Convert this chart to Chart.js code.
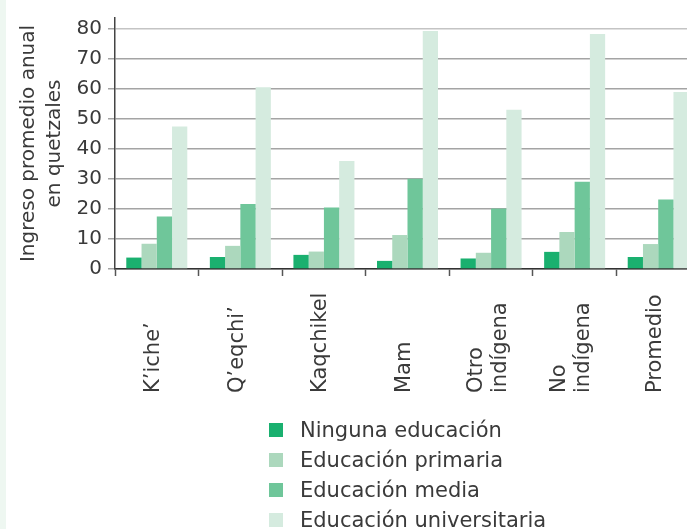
<!DOCTYPE html>
<html lang="es">
<head>
<meta charset="utf-8">
<title>Ingreso promedio anual</title>
<script src="https://cdn.jsdelivr.net/npm/chart.js@4.4.1/dist/chart.umd.min.js"></script>
<style>
    html, body { margin: 0; padding: 0; background: #fff; overflow: hidden; }
    body { width: 687px; height: 529px; position: relative; font-family: 'DejaVu Sans', sans-serif; }
    .stripe { position: absolute; left: 0; top: 0; width: 6px; height: 529px; background: #eef7f1; }
    #wrap { position: absolute; left: 0; top: 0; width: 700px; height: 529px; }
    #legend { position: absolute; left: 0; top: 0; }
    .item { position: absolute; left: 269px; height: 24px; line-height: 24px; white-space: nowrap; color: #3a3a3a; font-size: 21px; }
    .item span.box { position: absolute; left: 0; top: 5px; width: 14px; height: 14px; }
    .item span.txt { position: absolute; left: 31px; top: 0; }
</style>
</head>
<body>
<div class="stripe"></div>
<div id="wrap"><canvas id="incomeChart" width="700" height="529"></canvas></div>
<div id="legend"></div>
<script>
// Categories (ethnic group) and series values
const categories = ['K’iche’', 'Q’eqchi’', 'Kaqchikel', 'Mam', ['Otro', 'indígena'], ['No', 'indígena'], 'Promedio'];
const seriesNames = ['Ninguna educación', 'Educación primaria', 'Educación media', 'Educación universitaria'];
const ninguna = [3.8, 4.0, 4.7, 2.7, 3.5, 5.7, 4.0];
const primaria = [8.4, 7.7, 5.8, 11.3, 5.4, 12.3, 8.3];
const media = [17.5, 21.6, 20.5, 30.0, 20.1, 29.0, 23.1];
const universitaria = [47.4, 60.5, 35.9, 79.2, 53.0, 78.2, 58.9];
const yTicks = [0, 10, 20, 30, 40, 50, 60, 70, 80];

const colors = ['#1ab06f', '#acd8bd', '#6fc69a', '#d5ebdf'];
const seriesValues = [ninguna, primaria, media, universitaria];
const FONT = "'DejaVu Sans', sans-serif";
const TEXT = '#3a3a3a';

// Draws the rotated category labels, anchored at their start (bottom)
const bottomLabels = {
    id: 'bottomLabels',
    afterDraw(chart) {
        const ctx = chart.ctx;
        const xScale = chart.scales.x;
        ctx.save();
        ctx.font = '21px ' + FONT;
        ctx.fillStyle = TEXT;
        ctx.textAlign = 'left';
        ctx.textBaseline = 'middle';
        categories.forEach((label, i) => {
            const lines = Array.isArray(label) ? label : [label];
            const cx = xScale.getPixelForValue(i);
            lines.forEach((line, j) => {
                ctx.save();
                ctx.translate(cx - 3 + (j - (lines.length - 1) / 2) * 24, 393);
                ctx.rotate(-Math.PI / 2);
                ctx.fillText(line, 0, 0);
                ctx.restore();
            });
        });
        ctx.restore();
    }
};

const chartCtx = document.getElementById('incomeChart').getContext('2d');
const incomeChart = new Chart(chartCtx, {
    type: 'bar',
    data: {
        labels: categories,
        datasets: seriesNames.map((name, k) => ({
            label: name,
            data: seriesValues[k],
            backgroundColor: colors[k],
            borderWidth: 0
        }))
    },
    options: {
        responsive: false,
        animation: false,
        devicePixelRatio: 1,
        categoryPercentage: 0.73,
        barPercentage: 1.0,
        layout: { padding: { top: 15, left: 0, right: 0, bottom: 0 } },
        plugins: {
            legend: { display: false },
            tooltip: { enabled: false }
        },
        scales: {
            x: {
                offset: true,
                ticks: { display: false },
                grid: {
                    offset: true,
                    drawOnChartArea: false,
                    drawTicks: true,
                    tickLength: 7,
                    tickColor: '#555',
                    tickWidth: 1.5
                },
                border: { color: '#333', width: 1.5 },
                afterFit: function (scale) {
                    scale.height = 260;
                }
            },
            y: {
                min: 0,
                max: 83.5,
                afterBuildTicks: function (scale) {
                    scale.ticks = yTicks.map(v => ({ value: v }));
                },
                ticks: {
                    color: TEXT,
                    padding: 6,
                    font: { family: FONT, size: 20 }
                },
                grid: {
                    color: (c) => (c.tick && c.tick.value === 80 ? '#c4c4c4' : '#a4a4a4'),
                    lineWidth: 1.5,
                    tickLength: 7,
                    tickColor: '#a4a4a4'
                },
                border: { color: '#444', width: 1.5 },
                title: {
                    display: true,
                    text: ['Ingreso promedio anual', 'en quetzales'],
                    color: TEXT,
                    padding: { top: 16, bottom: 0 },
                    font: { family: FONT, size: 20, lineHeight: 1.3 }
                },
                afterFit: function (scale) {
                    scale.width = 115;
                }
            }
        }
    },
    plugins: [bottomLabels]
});

// HTML legend, one series per row
const legendEl = document.getElementById('legend');
const rowCenters = [430, 460, 490, 520];
seriesNames.forEach((name, k) => {
    const row = document.createElement('div');
    row.className = 'item';
    row.style.top = (rowCenters[k] - 12) + 'px';
    row.innerHTML = '<span class="box" style="background:' + colors[k] + '"></span><span class="txt">' + name + '</span>';
    legendEl.appendChild(row);
});
</script>
</body>
</html>
